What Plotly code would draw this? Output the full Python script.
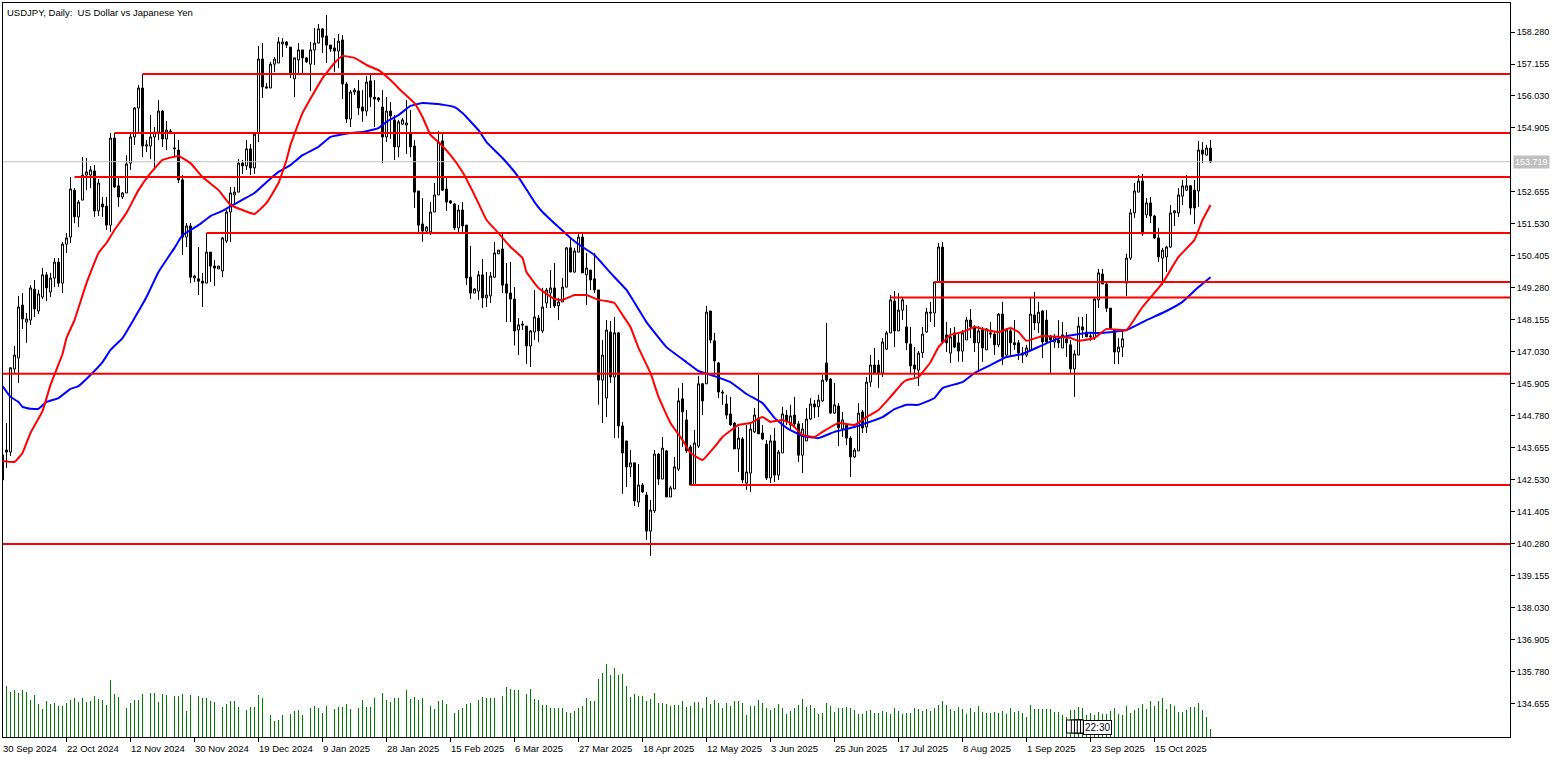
import plotly.graph_objects as go

# daily candles USDJPY
opens = [
    143.41, 143.58, 143.51, 146.43, 146.82, 148.68, 148.08, 148.15, 149.24, 148.47,
    148.96, 149.74, 149.14, 149.63, 150.19, 149.45, 150.82, 151.07, 152.72, 151.78,
    152.37, 153.25, 153.25, 153.39, 151.99, 152.23, 152.16, 151.49, 154.55, 152.87,
    152.48, 152.62, 153.67, 154.59, 155.61, 156.31, 154.27, 154.27, 154.59, 154.76,
    155.50, 154.52, 154.73, 154.17, 154.13, 153.08, 151.07, 151.46, 149.63, 149.60,
    149.52, 149.45, 150.54, 150.05, 149.95, 149.88, 150.93, 151.95, 152.55, 152.65,
    153.67, 153.57, 154.17, 153.50, 154.73, 157.33, 156.35, 156.31, 157.15, 157.19,
    157.86, 157.93, 157.75, 156.63, 157.30, 157.65, 157.37, 157.15, 157.65, 157.89,
    158.39, 158.14, 157.82, 157.72, 157.61, 158.00, 156.45, 155.22, 156.17, 156.21,
    155.64, 155.50, 156.56, 155.99, 155.96, 155.64, 154.59, 155.50, 155.19, 154.24,
    155.04, 155.01, 154.73, 154.27, 152.69, 151.53, 151.28, 151.25, 151.95, 152.55,
    154.45, 152.76, 152.34, 152.23, 151.39, 152.02, 151.49, 149.66, 149.10, 149.17,
    149.74, 148.93, 149.00, 149.66, 150.48, 150.65, 149.42, 149.10, 148.89, 147.80,
    148.01, 147.94, 147.24, 147.73, 148.22, 147.77, 148.75, 149.10, 149.28, 148.65,
    148.79, 149.31, 150.69, 149.84, 150.54, 151.07, 149.74, 149.91, 149.60, 149.21,
    146.04, 145.41, 147.73, 146.15, 147.70, 144.43, 143.90, 142.99, 143.13, 141.75,
    142.35, 142.00, 140.73, 141.44, 143.44, 142.56, 143.55, 141.93, 142.21, 142.91,
    145.38, 144.64, 143.69, 142.35, 143.72, 145.91, 145.91, 148.47, 147.42, 146.64,
    145.62, 145.20, 144.85, 144.53, 143.62, 143.97, 142.42, 142.77, 144.22, 144.71,
    144.18, 143.79, 142.60, 143.90, 142.70, 143.48, 144.81, 144.46, 144.81, 144.50,
    143.40, 143.90, 144.67, 145.20, 145.10, 145.31, 146.64, 146.08, 144.88, 145.13,
    144.32, 144.46, 144.00, 143.34, 143.55, 144.92, 144.39, 145.97, 146.57, 146.57,
    146.29, 147.13, 147.70, 148.82, 147.77, 148.50, 147.91, 147.31, 146.57, 146.39,
    147.00, 147.73, 148.43, 148.40, 149.49, 150.72, 147.63, 146.99, 147.70, 147.35,
    147.06, 147.45, 148.15, 147.91, 147.35, 147.80, 147.10, 147.70, 147.66, 147.28,
    148.36, 146.92, 147.77, 147.35, 147.35, 146.92, 146.92, 147.10, 148.33, 148.05,
    148.47, 148.15, 147.56, 147.38, 147.45, 147.17, 147.49, 147.28, 146.43, 146.92,
    147.91, 147.73, 147.56, 147.52, 148.86, 149.77, 149.42, 148.57, 147.80, 147.03,
    147.20, 149.45, 150.33, 151.92, 152.65, 153.04, 151.85, 152.27, 151.81, 151.04,
    150.33, 150.37, 150.72, 151.92, 151.92, 152.51, 152.72, 152.87, 152.72, 152.69,
    154.13, 153.95, 154.20,
]
highs = [
    143.62, 144.53, 146.50, 147.24, 149.00, 149.10, 148.40, 149.38, 149.56, 149.21,
    149.98, 149.84, 149.81, 150.33, 150.33, 150.90, 151.21, 153.18, 152.79, 152.37,
    153.88, 153.85, 153.57, 153.60, 153.11, 152.48, 152.48, 154.73, 154.73, 153.18,
    152.65, 153.95, 154.73, 155.64, 156.42, 156.80, 154.48, 155.36, 154.94, 155.89,
    155.54, 155.15, 154.87, 154.73, 154.48, 153.25, 151.56, 151.56, 149.74, 150.72,
    149.81, 151.21, 150.54, 150.26, 150.05, 151.07, 152.02, 152.83, 152.83, 153.81,
    153.78, 154.48, 154.34, 154.76, 157.79, 157.89, 156.49, 157.23, 157.40, 158.10,
    158.07, 157.96, 157.75, 157.37, 157.89, 157.65, 157.40, 157.93, 158.42, 158.56,
    158.42, 158.88, 157.82, 158.07, 158.21, 158.17, 156.52, 156.24, 156.31, 156.59,
    156.24, 156.73, 156.77, 156.59, 155.99, 156.24, 155.99, 155.82, 155.36, 155.19,
    155.26, 155.89, 155.54, 154.48, 152.69, 152.44, 151.46, 152.30, 152.97, 154.80,
    154.73, 153.14, 152.37, 152.27, 152.20, 152.30, 151.49, 150.76, 149.28, 149.88,
    150.30, 149.84, 149.84, 150.90, 150.61, 151.21, 150.16, 150.19, 149.31, 148.22,
    148.12, 147.94, 147.80, 149.21, 148.33, 149.28, 149.28, 149.91, 150.16, 148.93,
    149.63, 150.72, 151.04, 150.69, 151.21, 151.21, 150.51, 149.91, 150.51, 149.21,
    147.45, 148.15, 148.12, 148.26, 147.73, 144.57, 143.90, 143.58, 143.13, 143.09,
    142.42, 142.11, 141.82, 143.58, 143.48, 144.04, 143.58, 142.32, 143.34, 145.76,
    145.94, 144.99, 143.76, 144.29, 146.19, 145.94, 148.65, 148.47, 147.70, 146.68,
    145.69, 145.52, 145.45, 144.57, 144.39, 144.04, 144.46, 144.53, 145.06, 146.22,
    144.46, 143.93, 144.11, 144.36, 143.58, 145.10, 144.99, 145.17, 145.45, 144.60,
    144.53, 145.06, 145.41, 145.34, 145.52, 146.22, 148.05, 146.11, 145.94, 145.23,
    144.92, 144.53, 144.07, 143.65, 145.23, 144.99, 146.15, 146.92, 147.17, 146.75,
    147.52, 147.77, 149.03, 149.17, 149.10, 148.93, 148.68, 147.91, 147.20, 147.06,
    147.91, 148.58, 148.79, 149.49, 150.86, 150.90, 148.08, 147.87, 147.91, 147.70,
    147.80, 148.26, 148.54, 147.97, 147.94, 147.91, 147.87, 148.08, 147.73, 148.40,
    148.79, 147.87, 147.91, 148.15, 147.45, 147.20, 147.28, 148.96, 149.14, 148.79,
    148.50, 148.50, 147.63, 147.66, 148.15, 148.08, 147.73, 147.45, 147.10, 148.26,
    148.26, 148.36, 147.70, 148.93, 149.95, 149.95, 149.45, 148.57, 147.80, 147.52,
    147.80, 150.48, 152.06, 152.97, 153.25, 153.29, 152.44, 152.48, 151.85, 151.39,
    150.69, 150.76, 152.20, 152.02, 152.79, 153.08, 153.25, 152.90, 153.08, 154.45,
    154.41, 154.31, 154.48,
]
lows = [
    142.18, 142.95, 143.37, 146.29, 145.94, 147.84, 147.35, 147.98, 148.26, 148.36,
    148.89, 148.82, 148.96, 149.31, 149.31, 149.10, 150.51, 150.86, 151.56, 151.42,
    152.37, 152.72, 152.79, 151.78, 151.81, 151.78, 151.32, 151.25, 152.79, 152.13,
    152.41, 152.62, 153.43, 154.31, 154.73, 153.88, 154.06, 153.81, 153.43, 154.48,
    154.24, 154.13, 154.69, 153.92, 152.97, 150.44, 150.72, 149.45, 149.49, 149.03,
    148.61, 149.45, 149.49, 149.35, 149.95, 149.66, 150.86, 150.90, 152.27, 152.65,
    153.29, 153.43, 153.25, 153.29, 154.41, 155.96, 156.31, 156.31, 156.87, 157.19,
    157.40, 157.72, 156.66, 155.99, 156.84, 156.84, 157.19, 156.20, 157.12, 157.89,
    157.54, 157.19, 157.58, 156.87, 157.01, 155.92, 155.08, 154.94, 156.07, 155.36,
    155.12, 155.33, 155.64, 154.94, 155.82, 153.67, 154.41, 154.52, 153.78, 153.88,
    155.01, 153.99, 153.88, 152.09, 151.25, 150.90, 151.25, 151.14, 151.95, 152.55,
    152.69, 151.99, 152.23, 151.32, 151.25, 151.25, 149.38, 148.89, 149.10, 148.86,
    148.58, 148.61, 148.75, 149.63, 150.48, 149.10, 148.08, 148.08, 147.26, 146.92,
    147.80, 146.60, 146.50, 147.45, 147.38, 147.70, 148.58, 148.58, 148.58, 148.15,
    148.79, 149.31, 149.84, 149.81, 150.54, 149.81, 148.68, 149.21, 149.10, 145.17,
    144.53, 144.74, 145.94, 144.00, 144.00, 142.04, 142.28, 142.63, 141.61, 141.58,
    142.07, 140.42, 139.86, 141.37, 142.35, 142.56, 141.93, 141.93, 142.21, 142.84,
    143.69, 143.48, 142.35, 142.35, 143.65, 144.81, 145.91, 147.34, 146.22, 145.41,
    145.17, 144.67, 144.43, 143.62, 142.81, 142.42, 142.18, 142.11, 144.18, 144.15,
    143.93, 142.53, 142.42, 142.46, 142.53, 143.48, 144.46, 144.32, 144.39, 143.16,
    142.77, 143.90, 144.64, 144.71, 144.74, 145.27, 145.97, 144.85, 144.85, 143.72,
    144.04, 143.76, 142.63, 143.30, 143.55, 144.18, 144.18, 145.80, 146.29, 145.76,
    146.15, 147.10, 147.70, 147.20, 147.77, 148.15, 147.10, 146.29, 146.11, 145.83,
    146.82, 147.70, 148.08, 147.91, 149.49, 147.35, 147.03, 146.64, 147.17, 146.68,
    146.68, 147.45, 147.52, 147.03, 146.39, 146.68, 147.10, 147.52, 146.92, 147.20,
    146.57, 146.85, 146.92, 147.10, 146.75, 146.64, 146.85, 147.10, 147.80, 147.70,
    146.82, 147.35, 146.29, 147.17, 147.17, 147.17, 146.85, 146.29, 145.45, 146.92,
    147.52, 147.56, 147.42, 147.45, 148.57, 149.42, 148.43, 147.80, 146.60, 146.60,
    146.85, 149.00, 150.26, 151.74, 152.65, 151.11, 151.74, 151.56, 151.00, 150.19,
    149.38, 149.84, 150.69, 151.46, 151.78, 152.20, 152.69, 151.85, 151.53, 152.13,
    153.67, 153.95, 153.67,
]
closes = [
    142.53, 143.51, 146.47, 146.92, 148.61, 148.19, 148.19, 149.28, 148.54, 149.07,
    149.74, 149.28, 149.63, 150.19, 149.45, 150.82, 151.04, 152.76, 151.78, 152.30,
    153.25, 153.36, 153.43, 151.99, 152.97, 152.13, 151.49, 154.55, 152.83, 152.48,
    152.62, 153.64, 154.59, 155.61, 156.31, 154.27, 154.31, 154.59, 154.76, 155.50,
    154.52, 154.83, 154.80, 154.20, 153.08, 151.07, 151.46, 149.66, 149.70, 149.52,
    149.45, 150.54, 150.05, 149.98, 150.05, 151.04, 151.95, 152.62, 152.65, 153.67,
    153.57, 154.17, 153.50, 154.69, 157.33, 156.35, 156.31, 157.15, 157.33, 157.93,
    157.93, 157.82, 156.80, 157.37, 157.65, 157.37, 157.23, 157.65, 157.89, 158.39,
    158.10, 157.82, 157.68, 157.61, 157.96, 156.45, 155.22, 156.17, 156.24, 155.61,
    155.50, 156.52, 155.99, 155.92, 155.89, 154.59, 155.50, 155.33, 154.24, 155.12,
    155.19, 155.08, 154.24, 152.65, 151.49, 151.28, 151.42, 151.95, 152.55, 154.41,
    152.72, 152.30, 152.27, 151.39, 152.02, 151.46, 149.63, 149.10, 149.24, 149.74,
    148.93, 149.03, 149.70, 150.51, 150.61, 149.38, 149.10, 148.89, 147.77, 147.98,
    147.98, 147.24, 147.77, 148.26, 147.77, 148.61, 149.21, 149.28, 148.65, 148.79,
    149.31, 150.69, 149.84, 150.58, 151.07, 149.81, 149.98, 149.56, 149.21, 146.04,
    146.92, 147.80, 146.15, 147.70, 144.43, 143.48, 142.99, 143.13, 141.79, 142.35,
    142.11, 140.73, 141.47, 143.44, 142.56, 143.65, 141.93, 142.25, 142.99, 145.31,
    144.92, 143.55, 142.35, 143.83, 145.91, 145.31, 148.43, 147.45, 146.71, 145.62,
    145.59, 144.81, 144.46, 143.62, 144.00, 142.53, 142.81, 144.32, 144.81, 144.15,
    143.97, 142.60, 143.90, 142.70, 143.51, 144.85, 144.57, 144.78, 144.50, 143.40,
    144.32, 144.67, 145.20, 145.10, 145.34, 146.04, 146.04, 144.88, 145.17, 144.36,
    144.64, 144.00, 143.34, 143.58, 144.88, 144.36, 145.97, 146.57, 146.29, 146.29,
    147.38, 147.70, 148.86, 147.77, 148.50, 148.86, 147.35, 146.54, 146.43, 146.99,
    147.66, 148.43, 148.40, 149.49, 150.72, 147.38, 147.35, 147.56, 147.20, 147.06,
    147.70, 148.15, 147.91, 147.35, 147.77, 147.17, 147.84, 147.66, 147.28, 148.36,
    146.85, 147.80, 147.35, 147.28, 146.99, 146.99, 147.17, 148.36, 148.05, 148.43,
    147.38, 147.38, 147.45, 147.56, 147.35, 147.63, 147.35, 146.43, 146.96, 147.94,
    147.80, 147.56, 147.59, 148.89, 149.81, 149.42, 148.57, 147.87, 147.03, 147.20,
    147.49, 150.33, 151.92, 152.69, 153.04, 151.18, 152.27, 151.81, 151.04, 150.37,
    150.61, 150.72, 151.92, 151.99, 152.55, 152.87, 152.87, 152.09, 152.09, 154.13,
    153.99, 154.20, 153.72,
]
volumes = [
    52, 51, 45, 47, 44, 47, 45, 37, 42, 33,
    28, 36, 33, 34, 31, 31, 34, 37, 39, 35,
    39, 35, 36, 41, 38, 37, 32, 57, 43, 40,
    0, 29, 34, 37, 37, 43, 0, 44, 44, 35,
    43, 42, 0, 41, 41, 43, 26, 42, 0, 41,
    39, 39, 36, 35, 0, 30, 33, 36, 36, 30,
    0, 27, 30, 30, 42, 39, 0, 22, 16, 17,
    22, 0, 23, 26, 27, 22, 0, 29, 31, 29,
    24, 31, 0, 28, 30, 30, 33, 28, 0, 29,
    37, 30, 30, 39, 0, 44, 37, 35, 39, 39,
    0, 47, 38, 40, 37, 39, 0, 31, 28, 36,
    37, 33, 0, 24, 27, 29, 33, 34, 0, 37,
    40, 39, 39, 39, 0, 41, 50, 48, 47, 47,
    0, 43, 48, 38, 37, 32, 32, 29, 29, 29,
    29, 25, 24, 26, 29, 31, 39, 36, 36, 58,
    64, 73, 62, 69, 62, 63, 51, 40, 43, 41,
    41, 36, 38, 44, 34, 34, 33, 31, 32, 32,
    36, 30, 31, 35, 35, 29, 40, 33, 37, 34,
    29, 34, 31, 36, 36, 34, 22, 31, 31, 37,
    34, 29, 27, 29, 33, 29, 23, 26, 29, 32,
    38, 30, 32, 29, 23, 24, 34, 31, 25, 29,
    29, 30, 29, 27, 23, 23, 26, 27, 24, 24,
    26, 25, 23, 29, 26, 23, 24, 24, 29, 28,
    26, 28, 26, 29, 32, 36, 32, 28, 26, 30,
    28, 23, 29, 25, 31, 25, 24, 24, 25, 24,
    26, 23, 29, 25, 26, 24, 20, 32, 28, 28,
    28, 28, 28, 25, 25, 22, 20, 27, 27, 30,
    29, 22, 24, 22, 25, 23, 23, 26, 29, 23,
    22, 31, 24, 27, 29, 33, 28, 36, 31, 36,
    39, 28, 33, 31, 25, 25, 27, 30, 30, 34,
    27, 20, 8,
]

# moving averages, read at bars where the curve is clear
red_ma_bars = [
    0, 3, 5, 7, 10, 12, 15, 16, 18, 21, 24, 26, 28, 31, 34, 37, 40, 44, 47, 50,
    54, 57, 60, 63, 66, 69, 71, 72, 75, 80, 83, 85, 88, 91, 94, 97, 100, 103, 105, 107,
    109, 112, 115, 118, 121, 124, 127, 130, 131, 134, 138, 140, 143, 146, 149, 151, 153, 155, 157, 159,
    162, 164, 167, 170, 172, 175, 178, 180, 184, 187, 190, 192, 195, 197, 200, 203, 205, 209, 213, 216,
    219, 222, 225, 226, 229, 232, 234, 237, 240, 243, 246, 249, 252, 254, 256, 260, 264, 267, 269, 273,
    276, 281, 285, 290, 294, 298, 300, 302,
]
red_ma = [
    143.20, 143.16, 143.48, 144.18, 144.95, 145.87, 146.96, 147.52, 148.15, 149.45,
    150.51, 150.86, 151.32, 151.92, 152.72, 153.32, 153.78, 153.92, 153.67, 153.18,
    152.72, 152.20, 152.02, 151.88, 152.27, 152.97, 153.78, 154.31, 155.43, 156.66,
    157.19, 157.44, 157.37, 157.12, 156.94, 156.59, 156.17, 155.78, 155.29, 154.66,
    154.41, 153.95, 153.36, 152.55, 151.67, 151.21, 150.72, 150.33, 149.84, 149.28,
    148.89, 148.86, 149.03, 149.03, 148.86, 148.82, 148.75, 148.33, 147.91, 147.17,
    146.29, 145.45, 144.53, 143.93, 143.48, 143.23, 143.69, 144.04, 144.46, 144.53,
    144.74, 144.57, 144.64, 144.53, 144.11, 144.04, 144.22, 144.53, 144.46, 144.74,
    144.99, 145.45, 145.94, 146.04, 146.15, 146.67, 147.20, 147.63, 147.73, 147.91,
    147.80, 147.73, 147.87, 147.73, 147.42, 147.59, 147.56, 147.52, 147.42, 147.52,
    147.84, 147.80, 148.61, 149.45, 150.37, 150.97, 151.67, 152.20,
]
blue_ma_bars = [
    0, 2, 4, 5, 7, 9, 11, 14, 17, 19, 22, 25, 27, 30, 33, 36, 39, 43, 45, 49,
    52, 55, 58, 63, 66, 69, 72, 75, 79, 82, 87, 90, 94, 96, 99, 102, 105, 109, 113, 115,
    119, 121, 125, 129, 133, 135, 139, 142, 145, 148, 152, 156, 161, 166, 171, 174, 178, 182, 186, 190,
    193, 196, 200, 204, 208, 213, 216, 220, 223, 226, 229, 233, 235, 240, 243, 247, 251, 255, 260, 265,
    271, 275, 281, 286, 291, 295, 299, 302,
]
blue_ma = [
    145.83, 145.45, 145.27, 145.10, 145.03, 145.03, 145.27, 145.41, 145.73, 145.83,
    146.22, 146.67, 147.10, 147.52, 148.22, 148.96, 149.84, 150.69, 151.14, 151.49,
    151.81, 151.99, 152.23, 152.62, 153.00, 153.36, 153.60, 153.95, 154.24, 154.59,
    154.73, 154.76, 154.90, 155.12, 155.36, 155.68, 155.78, 155.75, 155.64, 155.43,
    154.83, 154.41, 153.85, 153.18, 152.30, 151.95, 151.42, 151.04, 150.72, 150.44,
    149.81, 149.21, 148.08, 147.20, 146.67, 146.36, 146.18, 145.97, 145.55, 145.23,
    144.71, 144.36, 144.07, 144.00, 144.22, 144.39, 144.53, 144.74, 145.02, 145.17,
    145.17, 145.41, 145.76, 145.97, 146.29, 146.57, 146.85, 146.96, 147.27, 147.56,
    147.70, 147.70, 147.80, 148.15, 148.47, 148.79, 149.31, 149.66,
]

# support / resistance lines and the bar each one starts from
level_prices = [156.80, 154.73, 153.18, 151.21, 149.49, 148.94, 146.26, 142.35, 140.28]
level_starts = [35, 28, 18, 51, 233, 222, 0, 172, 0]
last_price = 153.719

price_ticks = [
    158.280, 157.155, 156.030, 154.905, 152.655, 151.530, 150.405, 149.280, 148.155, 147.030, 145.905,
    144.780, 143.655, 142.530, 141.405, 140.280, 139.155, 138.030, 136.905, 135.780, 134.655,
]
date_bars = [0, 16, 32, 48, 64, 80, 96, 112, 128, 144, 160, 176, 192, 208, 224, 240, 256, 272, 288]
date_labels = [
    "30 Sep 2024", "22 Oct 2024", "12 Nov 2024", "30 Nov 2024", "19 Dec 2024", "9 Jan 2025", "28 Jan 2025",
    "15 Feb 2025", "6 Mar 2025", "27 Mar 2025", "18 Apr 2025", "12 May 2025", "3 Jun 2025", "25 Jun 2025",
    "17 Jul 2025", "8 Aug 2025", "1 Sep 2025", "23 Sep 2025", "15 Oct 2025",
]

font_name = "Liberation Sans"
bars = list(range(len(closes)))
x_start = 0.125
x_end = 376.875

fig = go.Figure()

fig.add_trace(go.Candlestick(
    x=bars, open=opens, high=highs, low=lows, close=closes,
    increasing=dict(fillcolor="white", line=dict(color="black", width=1)),
    decreasing=dict(fillcolor="black", line=dict(color="black", width=1)),
    whiskerwidth=0,
    hoverinfo="skip",
))

fig.add_trace(go.Scatter(
    x=[0, x_end], y=[last_price, last_price], mode="lines",
    line=dict(color="#C0C0C0", width=1), hoverinfo="skip",
))
fig.add_trace(go.Scatter(
    x=blue_ma_bars, y=blue_ma, mode="lines",
    line=dict(color="#0000FF", width=2, shape="spline", smoothing=0.3), hoverinfo="skip",
))
fig.add_trace(go.Scatter(
    x=red_ma_bars, y=red_ma, mode="lines",
    line=dict(color="#FF0000", width=2, shape="spline", smoothing=0.3), hoverinfo="skip",
))
for price, start in zip(level_prices, level_starts):
    fig.add_trace(go.Scatter(
        x=[start, x_end], y=[price, price], mode="lines",
        line=dict(color="#FF0000", width=2), hoverinfo="skip",
    ))

fig.add_trace(go.Bar(
    x=bars, y=volumes, yaxis="y2", width=0.25,
    marker=dict(color="#008000", line=dict(width=0)), hoverinfo="skip",
))

annotations = [dict(
    text="USDJPY, Daily:  US Dollar vs Japanese Yen", xref="paper", yref="paper",
    x=0.001, y=0.997, xanchor="left", yanchor="top", showarrow=False,
    font=dict(family=font_name, size=9.5, color="black"),
)]
for bar, label in zip(date_bars, date_labels):
    # the first bar sits just left of the axis range, annotations there get dropped
    annotations.append(dict(
        text=label, xref="x", yref="paper", x=max(bar, x_start), y=-0.005,
        xanchor="left", yanchor="top", showarrow=False, xshift=-2,
        font=dict(family=font_name, size=9.5, color="black"),
    ))
annotations.append(dict(
    text=f"{last_price:.3f}", xref="paper", yref="y", x=1.002, y=last_price,
    xanchor="left", yanchor="middle", showarrow=False,
    bgcolor="#C0C0C0", borderpad=1,
    font=dict(family=font_name, size=9, color="white"),
))
annotations.append(dict(
    text="22:30", xref="x", yref="y2", x=270, y=10,
    xanchor="left", yanchor="middle", showarrow=False,
    bgcolor="white", bordercolor="black", borderwidth=1, borderpad=1,
    font=dict(family=font_name, size=10, color="black"),
))

# the stacked countdown boxes left of the 22:30 label
shapes = []
for bar in [266, 267.2, 268, 268.7, 269.5]:
    shapes.append(dict(
        type="rect", xref="x", yref="y2", x0=bar, x1=270.2, y0=4, y1=17,
        line=dict(color="black", width=1), fillcolor="white",
    ))

fig.update_layout(
    width=1563,
    height=757,
    margin=dict(l=3, r=53, t=3, b=20, autoexpand=False),
    paper_bgcolor="white",
    plot_bgcolor="white",
    showlegend=False,
    hovermode=False,
    boxgap=0.5,
    boxgroupgap=0,
    annotations=annotations,
    shapes=shapes,
    xaxis=dict(
        range=[x_start, x_end], showgrid=False, zeroline=False, rangeslider=dict(visible=False),
        tickmode="array", tickvals=date_bars[1:], showticklabels=False,
        ticks="outside", ticklen=4, tickcolor="black", tickwidth=1,
        showline=True, linecolor="black", linewidth=1, mirror=True,
    ),
    yaxis=dict(
        range=[133.49, 159.30], side="right", showgrid=False, zeroline=False,
        tickmode="array", tickvals=price_ticks, ticktext=[f"{t:.3f}" for t in price_ticks],
        ticks="outside", ticklen=4, tickcolor="black", tickwidth=1,
        tickfont=dict(family=font_name, size=9, color="black"),
        showline=True, linecolor="black", linewidth=1, mirror=True,
    ),
    yaxis2=dict(
        range=[0, 734], overlaying="y", side="left", visible=False, showgrid=False, zeroline=False,
    ),
)

fig.write_html("out.html", config={"displayModeBar": False}, post_script="document.body.style.margin='0';")
